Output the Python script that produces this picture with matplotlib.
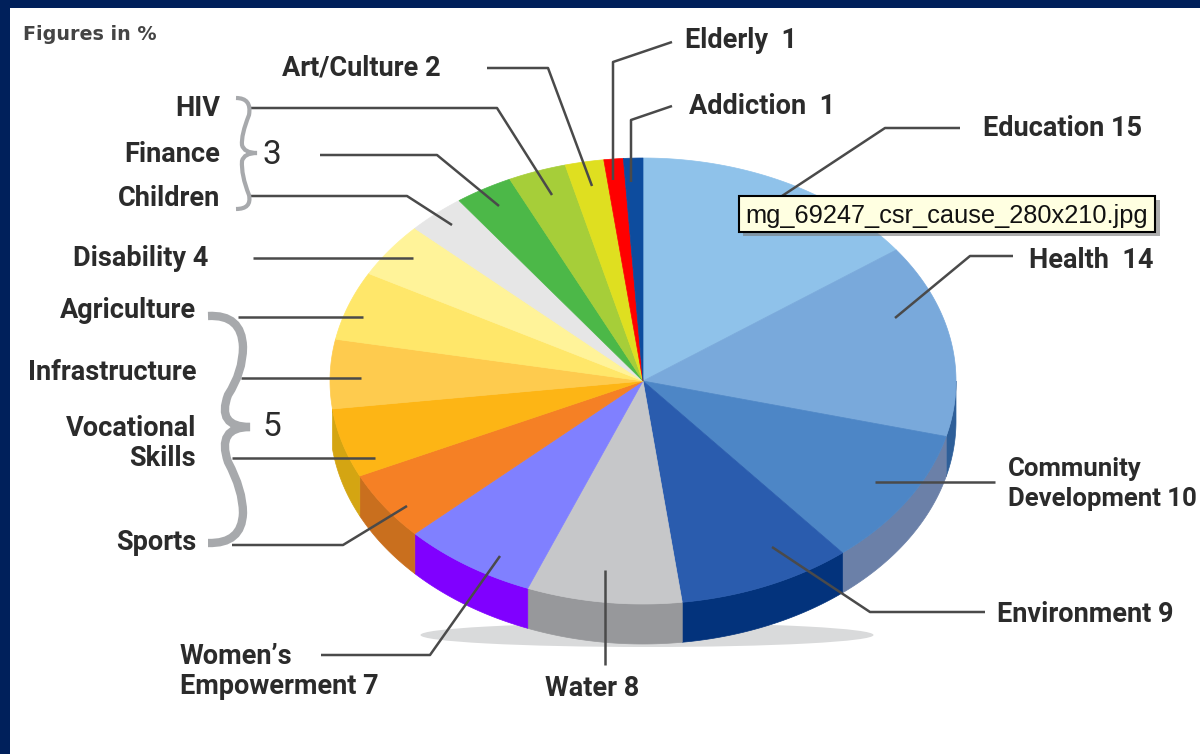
import numpy as np
import matplotlib
matplotlib.use('Agg')
import matplotlib.pyplot as plt
from matplotlib.patches import Ellipse, Rectangle, PathPatch
from matplotlib.path import Path

plt.rcParams['font.family'] = ['Roboto', 'DejaVu Sans']

causes = ['Education', 'Health', 'Community Development', 'Environment', 'Water',
          "Women's Empowerment", 'Sports', 'Vocational Skills', 'Infrastructure',
          'Agriculture', 'Disability', 'Children', 'Finance', 'HIV', 'Art/Culture',
          'Elderly', 'Addiction']
shares = [15, 14, 10, 9, 8, 7, 5, 5, 5, 5, 4, 3, 3, 3, 2, 1, 1]
top_colors = ['#8fc2ea', '#79a9db', '#4d86c6', '#2a5cae', '#c6c7c9', '#8080ff',
              '#f58025', '#fdb515', '#fecb4e', '#ffe76a', '#fff399', '#e6e6e6',
              '#4cb848', '#a6ce39', '#dfdf20', '#ff0000', '#0d4c9e']
side_colors = [None, '#2e5f99', '#6b80a8', '#03337c', '#97989b', '#8000ff',
               '#c96f1e', '#d4a512', None, None, None, None, None, None, None, None, None]

# pie geometry, in pixels of the picture
CX, CY = 643, 381
RX, RY = 313, 223
DEPTH = 40

NAVY = '#00205b'
INK = '#2b2b2b'
LINE = '#4a4a4a'
BRACE = '#a7a9ac'


def rim(deg, drop=0):
    a = np.radians(deg)
    return CX + RX * np.sin(a), CY - RY * np.cos(a) + drop


fig = plt.figure(figsize=(12, 7.54), dpi=100, facecolor=NAVY)
ax = fig.add_axes([10 / 1200, 0, 1190 / 1200, 746 / 754])
ax.set_xlim(10, 1200)
ax.set_ylim(754, 8)
ax.set_xticks([])
ax.set_yticks([])
for s in ax.spines.values():
    s.set_visible(False)

# shadow under the pie
ax.add_patch(Ellipse((647, 635), 453, 24, fc='#d9dadb', ec='none', zorder=1))

edges = np.cumsum([0] + shares) / sum(shares) * 360

# side wall first, then the top goes over it
for i, c in enumerate(side_colors):
    if c is None:
        continue
    lo, hi = max(edges[i], 90), min(edges[i + 1], 270)
    t = np.linspace(lo, hi, 60)
    x1, y1 = rim(t)
    x2, y2 = rim(t[::-1], DEPTH)
    ax.fill(np.r_[x1, x2], np.r_[y1, y2], color=c, lw=0.5, zorder=2)

for i, c in enumerate(top_colors):
    t = np.linspace(edges[i], edges[i + 1], 80)
    x, y = rim(t)
    ax.fill(np.r_[CX, x], np.r_[CY, y], color=c, lw=0.5, zorder=3)

# leader lines
leaders = [
    [(672, 42), (613, 62), (613, 180)],
    [(672, 106), (631, 120), (631, 182)],
    [(487, 68), (548, 68), (592, 186)],
    [(250, 108), (497, 108), (552, 195)],
    [(320, 155), (437, 155), (499, 206)],
    [(250, 196), (407, 196), (452, 225)],
    [(253, 258), (413, 258)],
    [(238, 317), (363, 317)],
    [(241, 378), (361, 378)],
    [(232, 458), (375, 458)],
    [(232, 545), (343, 545), (407, 506)],
    [(321, 655), (430, 655), (500, 556)],
    [(605, 570), (605, 665)],
    [(772, 547), (870, 612), (985, 612)],
    [(875, 482), (995, 482)],
    [(1013, 256), (970, 256), (895, 318)],
    [(960, 128), (885, 128), (782, 196)],
]
for pts in leaders:
    xs, ys = zip(*pts)
    ax.plot(xs, ys, color=LINE, lw=1.8, solid_capstyle='butt', zorder=4)


def brace(pts, lw):
    codes = [Path.MOVETO] + [Path.CURVE3] * (len(pts) - 1)
    ax.add_patch(PathPatch(Path(pts, codes), fc='none', ec=BRACE, lw=lw,
                           capstyle='butt', zorder=5))


brace([(236, 98), (252, 98), (249, 115), (241, 135), (242, 145), (244, 153), (257, 153),
       (244, 153), (242, 161), (241, 175), (249, 195), (252, 209), (236, 209)], 3)
brace([(208, 316), (242, 314), (243, 347), (243, 372), (228, 395), (216, 427), (250, 427),
       (216, 427), (228, 462), (243, 490), (243, 513), (242, 544), (208, 543)], 6)

# labels: text, x, y, alignment, size, weight
labels = [
    ('Elderly  1', 685, 41, 'left', 19.5, 'bold'),
    ('Addiction  1', 689, 106, 'left', 19.5, 'bold'),
    ('Art/Culture 2', 441, 68, 'right', 19.5, 'bold'),
    ('HIV', 220, 109, 'right', 19.5, 'bold'),
    ('Finance', 220, 155, 'right', 19.5, 'bold'),
    ('Children', 220, 198, 'right', 19.5, 'bold'),
    ('3', 272, 155, 'center', 24, 'normal'),
    ('Disability 4', 208, 259, 'right', 19.5, 'bold'),
    ('Agriculture', 196, 311, 'right', 19.5, 'bold'),
    ('Infrastructure', 196, 373, 'right', 19.5, 'bold'),
    ('Vocational', 196, 429, 'right', 19.5, 'bold'),
    ('Skills', 196, 458, 'right', 19.5, 'bold'),
    ('5', 272, 427, 'center', 24, 'normal'),
    ('Sports', 196, 542, 'right', 19.5, 'bold'),
    ('Women\u2019s', 180, 656, 'left', 19.5, 'bold'),
    ('Empowerment 7', 180, 686, 'left', 19.5, 'bold'),
    ('Water 8', 545, 688, 'left', 19.5, 'bold'),
    ('Environment 9', 997, 615, 'left', 19.5, 'bold'),
    ('Community', 1008, 469, 'left', 18.5, 'bold'),
    ('Development 10', 1008, 499, 'left', 18.5, 'bold'),
    ('Health  14', 1029, 261, 'left', 19.5, 'bold'),
    ('Education 15', 983, 129, 'left', 19.5, 'bold'),
]
for txt, x, y, ha, size, weight in labels:
    ax.text(x, y, txt, ha=ha, va='center', fontsize=size, fontweight=weight,
            color=INK, zorder=6)
ax.text(23, 35, 'Figures in %', ha='left', va='center', fontsize=13.8, fontweight='bold',
        family=['DejaVu Sans'], color='#444444', zorder=6)

# tooltip left over from the browser
ax.add_patch(Rectangle((743, 200), 417, 36, fc='#777777', ec='none', alpha=0.6, zorder=7))
ax.add_patch(Rectangle((739, 196), 416, 36, fc='#ffffe1', ec='black', lw=1.5, zorder=8))
ax.text(947, 216, 'mg_69247_csr_cause_280x210.jpg', ha='center', va='center',
        fontsize=18.3, family=['Liberation Sans', 'DejaVu Sans'], color='#111111', zorder=9)

fig.savefig('out.png', dpi=100, facecolor=NAVY)
